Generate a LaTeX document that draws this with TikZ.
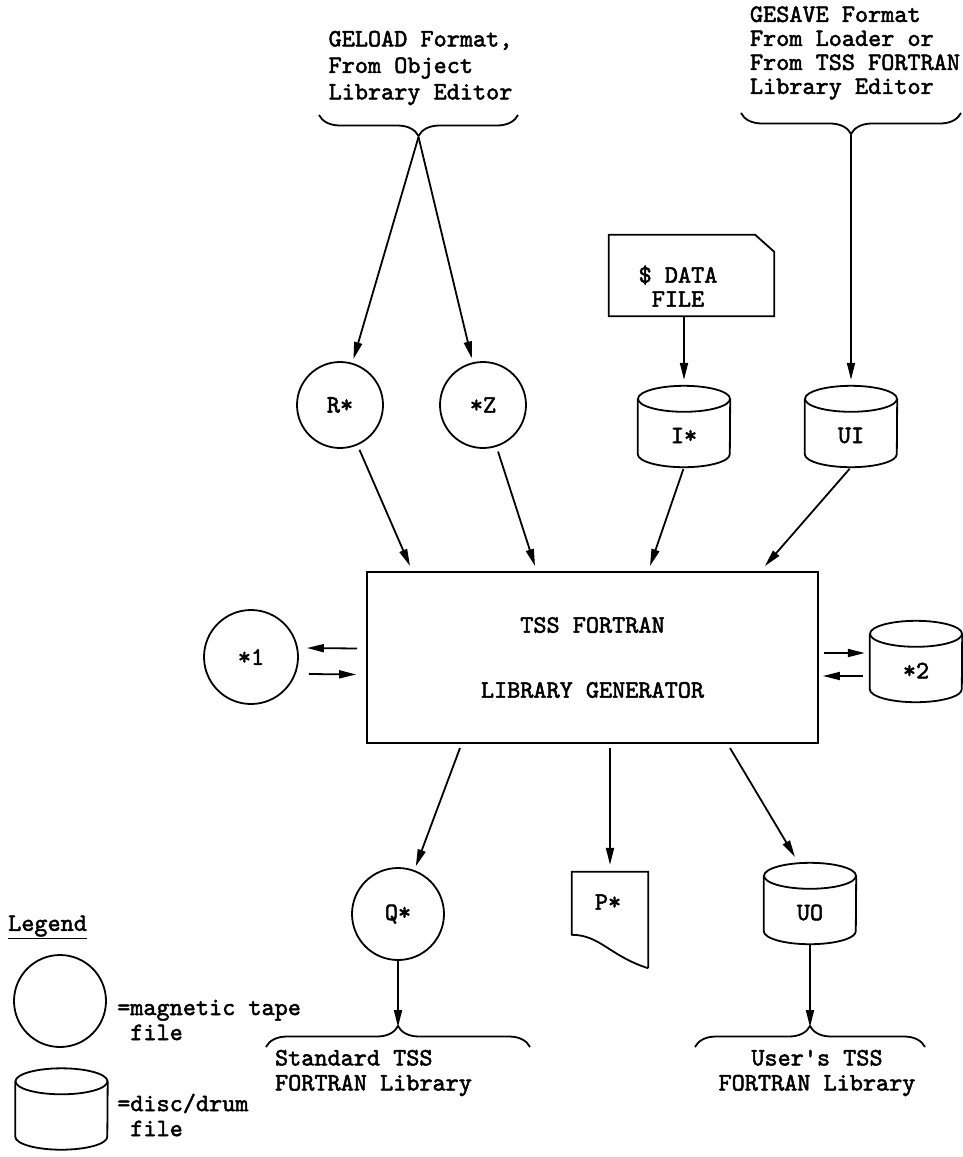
\documentclass[tikz,border=0pt]{standalone}
\usepackage{fontspec}
\newfontfamily\tyf{lmmono10-regular}[Extension=.otf, FakeBold=2]
\usetikzlibrary{arrows.meta,decorations.pathreplacing,calc}
\begin{document}
\begin{tikzpicture}[x=1pt,y=1pt,
  lw/.style={line width=1.8pt},
  txt/.style={font=\fontsize{25}{25}\selectfont\tyf, inner sep=0pt},
  arr/.style={lw, -{Triangle[length=17pt,width=8pt]}},
  tape/.style={circle, lw, draw, inner sep=0pt, txt},
  disk/.style={rectangle, minimum width=92pt, minimum height=81pt, inner sep=0pt},
  brc/.style={lw, decorate, decoration={brace, amplitude=21pt}},
]
\useasboundingbox (0,0) rectangle (962,-1157);

\newcommand\cylshape[3]{%
  \node[disk] (#1) at (#2) {};
  \draw[lw] ($(#1.north)+(0,-13)$) ellipse [x radius=46, y radius=13];
  \draw[lw] ($(#1.north west)+(0,-13)$) -- ($(#1.south west)+(0,13)$)
     arc[start angle=180, end angle=360, x radius=46, y radius=13]
     -- ($(#1.north east)+(0,-13)$);
  \node[txt] (#1-t) at ($(#1)+(0,-9)$) {#3};
}

% top texts and braces
\node[txt, align=left, font=\fontsize{25}{26.5}\selectfont\tyf] (tL) at (420.5,-68) {GELOAD Format,\\From Object\\Library Editor};
\node[txt, align=left, font=\fontsize{25}{24}\selectfont\tyf] (tR) at (855,-53) {GESAVE Format\\From Loader or\\From TSS FORTRAN\\Library Editor};
\draw[brc] (518,-115) -- (319,-115);
\coordinate (tipL) at (418.5,-137);
\draw[brc] (961,-113) -- (741,-113);
\coordinate (tipR) at (851,-135);

% data card
\node[rectangle, minimum width=165pt, minimum height=81pt, inner sep=0pt] (card) at (691.5,-275.5) {};
\draw[lw] (card.north west) -- ($(card.north east)+(-19,0)$) -- ($(card.north east)+(0,-17)$) -- (card.south east) -- (card.south west) -- cycle;
\node[txt, align=center, font=\fontsize{25}{24}\selectfont\tyf] (cardt) at (678,-286) {\$ DATA\\FILE};

% tapes and disks on top row
\node[tape, minimum size=86pt] (Rs) at (340,-405) {R*};
\node[tape, minimum size=86pt] (Zs) at (483,-405) {*Z};
\cylshape{Is}{684,-426.5}{I*}
\cylshape{UI}{851,-426.5}{UI}

% main box
\node[draw, lw, txt, align=center, minimum width=451pt, minimum height=171pt] (box) at (592.5,-657.5) {TSS FORTRAN\\[40pt]LIBRARY GENERATOR};

% side files
\node[tape, minimum size=94pt] (S1) at (251,-657) {*1};
\cylshape{S2}{916,-661.5}{*2}

% bottom files
\node[tape, minimum size=92pt] (Qs) at (398,-914) {Q*};
\node[rectangle, minimum width=76pt, minimum height=96pt, inner sep=0pt] (Ps) at (610,-920) {};
\draw[lw] (Ps.south east) -- (Ps.north east) -- (Ps.north west) -- ($(Ps.north west)+(0,-63)$)
   .. controls ($(Ps.north west)+(28,-63)$) and ($(Ps.south east)+(-38,12)$) .. (Ps.south east);
\node[txt] (Ps-t) at (608,-902) {P*};
\cylshape{UO}{810,-903.5}{UO}

% bottom braces and texts
\draw[brc] (266,-1047) -- (530,-1047);
\coordinate (tipQ) at (398,-1027);
\draw[brc] (695,-1047) -- (925,-1047);
\coordinate (tipU) at (810,-1027);
\node[txt, align=left] (bL) at (373.5,-1073) {Standard TSS\\FORTRAN Library};
\node[txt, align=center] (bR) at (817,-1073) {User's TSS\\FORTRAN Library};

% legend
\node[txt, anchor=west] (leg) at (8,-927) {\underline{Legend}};
\node[tape, minimum size=92pt] (lgT) at (60,-1001) {};
\node[txt, align=left, anchor=west] (lgTt) at (117,-1020) {=magnetic tape\\\hphantom{=}file};
\cylshape{lgD}{61.5,-1109}{}
\node[txt, align=left, anchor=west] (lgDt) at (117,-1115) {=disc/drum\\\hphantom{=}file};

% connector end points on the box
\coordinate (b1) at (410,-566);
\coordinate (b2) at (535,-566);
\coordinate (b3) at (650,-566);
\coordinate (b4) at (765,-566);
\coordinate (c1) at (460,-748);
\coordinate (c2) at (610,-748);
\coordinate (c3) at (730,-748);
\coordinate (d3) at (795,-857);

% connectors
\draw[arr, shorten >=4pt] (tipL) -- (Rs);
\draw[arr, shorten >=4pt] (tipL) -- (Zs);
\draw[arr, shorten >=6pt] (tipR) -- (UI.north);
\draw[arr, shorten >=6pt] (card.south -| Is) -- (Is.north);
\draw[arr, shorten <=5pt] (Rs) -- (b1);
\draw[arr, shorten <=5pt] (Zs) -- (b2);
\draw[arr, shorten <=2pt] (Is.south) -- (b3);
\draw[arr, shorten <=2pt] (UI.south) -- (b4);
\draw[arr] ($(box.west)+(-9,9)$) -- ($(S1.east)+(8,9)$);
\draw[arr] ($(S1.east)+(10,-17)$) -- ($(box.west)+(-10,-17)$);
\draw[arr] ($(box.east)+(5,4.5)$) -- ($(S2.west)+(-5,8.5)$);
\draw[arr] ($(S2.west)+(-7,-14.5)$) -- ($(box.east)+(4,-18.5)$);
\draw[arr, shorten >=4pt] (c1) -- (Qs);
\draw[arr, shorten >=7pt] (c2) -- (Ps.north);
\draw[arr] (c3) -- (d3);
\draw[arr] (Qs.south) -- (tipQ);
\draw[arr] (UO.south) -- (tipU);
\end{tikzpicture}
\end{document}
